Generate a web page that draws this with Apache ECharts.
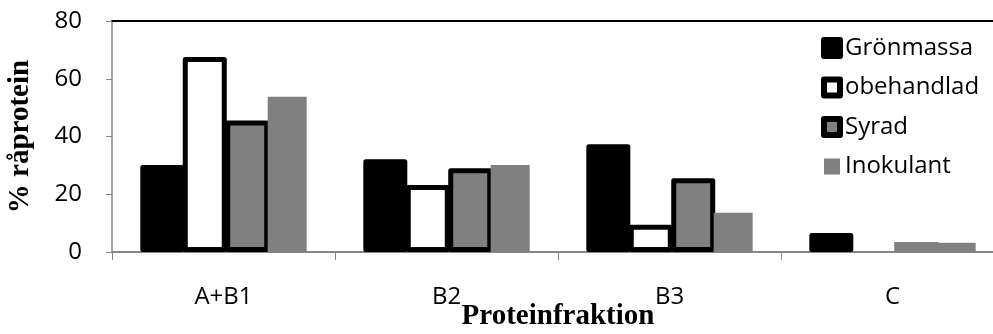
<!DOCTYPE html>
<html>
<head>
<meta charset="utf-8">
<script src="https://cdn.jsdelivr.net/npm/echarts@6/dist/echarts.min.js"></script>
<style>
html,body{margin:0;padding:0;background:#fff;}
#chart{width:993px;height:334px;}
</style>
</head>
<body>
<div id="chart"></div>
<script>
var categories = ['A+B1', 'B2', 'B3', 'C'];
var seriesNames = ['Grönmassa', 'obehandlad', 'Syrad', 'Inokulant'];
var gronmassa = [30.1, 32.1, 37.3, 6.6];
var obehandlad = [67.5, 23.2, 9.4, null];
var syrad = [45.5, 29, 25.5, 3.5];
var inokulant = [53.8, 30.1, 13.6, 3.2];
var yTicks = [0, 20, 40, 60, 80];

var chart = echarts.init(document.getElementById('chart'), null, {renderer: 'canvas'});
var gray = '#808080';
var axisGray = '#868686';
var bw = 5;

function bar(name, data, fill, border) {
  return {
    name: name,
    type: 'bar',
    data: data,
    barWidth: border ? 44 : 39,
    barGap: '-3.5%',
    itemStyle: {
      color: fill,
      borderColor: '#000',
      borderWidth: border ? bw : 0,
      borderJoin: 'round'
    }
  };
}

var syradData = syrad.map(function (v, i) {
  return i === 3 ? {value: v, itemStyle: {borderWidth: 0}} : v;
});

var option = {
  animation: false,
  backgroundColor: '#fff',
  grid: {left: 112, top: 21, width: 892, height: 231, containLabel: false, outerBoundsMode: 'none'},
  legend: {
    orient: 'vertical',
    left: 816,
    top: 31,
    itemWidth: 16,
    itemHeight: 16,
    itemGap: 15.5,
    icon: 'rect',
    textStyle: {fontFamily: 'Open Sans', fontSize: 24, color: '#000', lineHeight: 24},
    data: [
      {name: seriesNames[0], itemStyle: {borderWidth: 6, borderColor: '#000'}},
      {name: seriesNames[1], itemStyle: {borderWidth: 6, borderColor: '#000'}},
      {name: seriesNames[2], itemStyle: {borderWidth: 6, borderColor: '#000'}},
      {name: seriesNames[3], itemStyle: {borderWidth: 0}}
    ]
  },
  xAxis: [{
    type: 'category',
    data: categories,
    position: 'bottom',
    axisLine: {lineStyle: {color: axisGray, width: 2}},
    axisTick: {show: true, length: 8, lineStyle: {color: axisGray, width: 1}},
    axisLabel: {fontFamily: 'Open Sans', fontSize: 24, color: '#000', margin: 33},
    name: 'Proteinfraktion',
    nameLocation: 'middle',
    nameGap: 50,
    nameMoveOverlap: false,
    nameTextStyle: {fontFamily: 'Liberation Serif', fontWeight: 'bold', fontSize: 29, color: '#000'}
  }, {
    type: 'category',
    data: categories,
    position: 'top',
    axisLine: {show: true, lineStyle: {color: '#000', width: 2}},
    axisTick: {show: false},
    axisLabel: {show: false}
  }],
  yAxis: {
    type: 'value',
    min: yTicks[0],
    max: yTicks[yTicks.length - 1],
    interval: yTicks[1] - yTicks[0],
    axisLine: {show: true, lineStyle: {color: axisGray, width: 1.5}},
    axisTick: {show: true, length: 6, lineStyle: {color: axisGray}},
    splitLine: {show: false},
    axisLabel: {fontFamily: 'Open Sans', fontSize: 24, color: '#000', margin: 30},
    name: '% råprotein',
    nameLocation: 'middle',
    nameGap: 77,
    nameMoveOverlap: false,
    nameTextStyle: {fontFamily: 'Liberation Serif', fontWeight: 'bold', fontSize: 29, color: '#000'}
  },
  series: [
    bar(seriesNames[0], gronmassa, '#000', true),
    bar(seriesNames[1], obehandlad, '#fff', true),
    bar(seriesNames[2], syradData, gray, true),
    bar(seriesNames[3], inokulant, gray, false)
  ]
};
chart.setOption(option);
</script>
</body>
</html>
